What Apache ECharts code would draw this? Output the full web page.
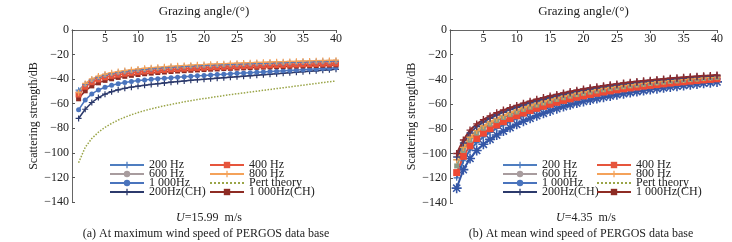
<!DOCTYPE html>
<html lang="en">
<head>
<meta charset="UTF-8">
<title>Scattering strength vs grazing angle</title>
<script src="https://cdn.jsdelivr.net/npm/echarts@6/dist/echarts.min.js"></script>
<style>
  html, body { margin: 0; padding: 0; background: #fff; }
  #chart { width: 732px; height: 242px; }
</style>
</head>
<body>
<div id="chart"></div>
<script>
// grazing angle, degrees
var angles = [1,2,3,4,5,6,7,8,9,10,11,12,13,14,15,16,17,18,19,20,
              21,22,23,24,25,26,27,28,29,30,31,32,33,34,35,36,37,38,39,40];

// (a) U = 15.99 m/s
var a200 = [-49,-44,-40.5,-38.3,-36.7,-35.5,-34.6,-33.8,-33.1,-32.5,-32,-31.5,-31.1,-30.7,-30.3,-30,-29.7,-29.4,-29.1,-28.9,
            -28.6,-28.4,-28.2,-28,-27.8,-27.6,-27.4,-27.2,-27.1,-26.9,-26.7,-26.6,-26.4,-26.3,-26.1,-26,-25.8,-25.7,-25.6,-25.4];
var a400 = [-52.5,-46.2,-42.5,-40.2,-38.5,-37.3,-36.4,-35.6,-34.9,-34.3,-33.8,-33.3,-32.9,-32.5,-32.1,-31.8,-31.5,-31.2,-30.9,-30.7,
            -30.4,-30.2,-30,-29.8,-29.6,-29.4,-29.2,-29,-28.9,-28.7,-28.5,-28.4,-28.2,-28.1,-27.9,-27.8,-27.6,-27.5,-27.4,-27.2];
var a600 = [-50,-44.6,-41,-38.8,-37.1,-35.9,-35,-34.2,-33.5,-32.9,-32.4,-31.9,-31.5,-31.1,-30.7,-30.4,-30.1,-29.8,-29.5,-29.3,
            -29,-28.8,-28.6,-28.4,-28.2,-28,-27.8,-27.6,-27.5,-27.3,-27.1,-27,-26.8,-26.7,-26.5,-26.4,-26.2,-26.1,-26,-25.8];
var a800 = [-51,-43.5,-39.8,-37.5,-35.9,-34.7,-33.8,-33,-32.3,-31.7,-31.2,-30.7,-30.3,-29.9,-29.5,-29.2,-28.9,-28.6,-28.3,-28.1,
            -27.8,-27.6,-27.4,-27.2,-27,-26.8,-26.6,-26.4,-26.3,-26.1,-25.9,-25.8,-25.6,-25.5,-25.3,-25.2,-25,-24.9,-24.8,-24.6];
var a1000 = [-65,-57,-52,-48.8,-46.6,-45,-43.7,-42.7,-41.9,-41.2,-40.6,-40.1,-39.6,-39.2,-38.8,-38.4,-38,-37.7,-37.3,-37,
             -36.6,-36.3,-36,-35.6,-35.3,-35,-34.7,-34.4,-34.1,-33.8,-33.5,-33.2,-32.9,-32.6,-32.3,-32,-31.7,-31.4,-31.1,-30.8];
var aPert = [-108,-95.5,-88.3,-83.2,-79.2,-76,-73.3,-71,-69,-67.2,-65.6,-64.2,-62.9,-61.7,-60.6,-59.5,-58.5,-57.5,-56.6,-55.8,
             -55,-54.2,-53.4,-52.6,-51.9,-51.2,-50.5,-49.8,-49.1,-48.4,-47.7,-47,-46.3,-45.6,-44.9,-44.2,-43.5,-42.8,-42.1,-41.5];
var a200CH = [-72,-64.5,-59,-55,-52.2,-50.2,-48.7,-47.5,-46.5,-45.7,-45,-44.3,-43.7,-43.1,-42.5,-42,-41.5,-41,-40.5,-40.1,
              -39.6,-39.2,-38.8,-38.4,-38,-37.6,-37.2,-36.8,-36.4,-36,-35.6,-35.2,-34.8,-34.4,-34,-33.6,-33.2,-32.8,-32.4,-32];
var a1000CH = [-56,-49.5,-45.5,-43,-41,-39.7,-38.6,-37.7,-36.9,-36.2,-35.6,-35.1,-34.6,-34.2,-33.8,-33.4,-33.1,-32.8,-32.5,-32.2,
               -31.9,-31.7,-31.4,-31.2,-31,-30.8,-30.6,-30.4,-30.2,-30,-29.8,-29.7,-29.5,-29.3,-29.2,-29,-28.9,-28.7,-28.6,-28.4];

// (b) U = 4.35 m/s
var b200 = [-119.6,-105.8,-97.1,-91.1,-86.5,-82.8,-79.6,-76.7,-74.1,-71.7,-69.4,-67.3,-65.4,-63.6,-61.9,-60.2,-58.7,-57.3,-56,-54.8,
            -53.7,-52.6,-51.6,-50.7,-49.8,-48.9,-48.1,-47.4,-46.6,-45.9,-45.3,-44.6,-44,-43.5,-42.9,-42.4,-41.8,-41.3,-40.9,-40.3];
var b400 = [-115.4,-102.2,-93.7,-87.8,-83.5,-79.9,-76.9,-74.2,-71.7,-69.4,-67.2,-65.2,-63.4,-61.7,-60.1,-58.5,-57,-55.7,-54.4,-53.3,
            -52.2,-51.2,-50.2,-49.3,-48.4,-47.6,-46.9,-46.2,-45.4,-44.8,-44.2,-43.6,-43,-42.4,-41.9,-41.4,-40.9,-40.4,-40,-39.5];
var b600 = [-110,-97.4,-89.1,-83.5,-79.5,-76.2,-73.3,-70.8,-68.5,-66.4,-64.3,-62.5,-60.8,-59.1,-57.6,-56.2,-54.8,-53.5,-52.3,-51.2,
            -50.2,-49.3,-48.4,-47.5,-46.7,-45.9,-45.2,-44.5,-43.9,-43.3,-42.7,-42.1,-41.6,-41.1,-40.6,-40.1,-39.7,-39.2,-38.8,-38.4];
var b800 = [-105,-95,-86.8,-81.4,-77.5,-74.3,-71.5,-69.1,-66.9,-64.8,-62.9,-61.1,-59.4,-57.9,-56.4,-55,-53.7,-52.5,-51.3,-50.2,
            -49.3,-48.3,-47.4,-46.6,-45.8,-45.1,-44.4,-43.7,-43.1,-42.5,-42,-41.4,-40.9,-40.4,-40,-39.5,-39.1,-38.6,-38.3,-37.8];
var b1000 = [-128,-113,-104,-97.5,-92.5,-88.5,-85,-81.8,-79,-76.3,-73.8,-71.5,-69.4,-67.4,-65.5,-63.7,-62,-60.5,-59.1,-57.8,
             -56.6,-55.5,-54.4,-53.4,-52.4,-51.5,-50.6,-49.8,-49,-48.2,-47.5,-46.8,-46.1,-45.5,-44.9,-44.3,-43.7,-43.1,-42.6,-42];
var bPert = []; // hidden under the other curves in (b)
var b200CH = [-102.8,-91.4,-83.3,-78.2,-74.5,-71.4,-68.8,-66.5,-64.4,-62.5,-60.7,-59,-57.4,-56,-54.6,-53.3,-52,-50.9,-49.7,-48.7,
              -47.8,-46.9,-46,-45.2,-44.5,-43.8,-43.1,-42.5,-41.9,-41.4,-40.8,-40.3,-39.8,-39.4,-39,-38.5,-38.1,-37.7,-37.4,-37];
var b1000CH = [-100,-89,-81,-76,-72.5,-69.5,-67,-64.8,-62.8,-61,-59.2,-57.6,-56.1,-54.7,-53.4,-52.1,-50.9,-49.8,-48.7,-47.7,
               -46.8,-45.9,-45.1,-44.3,-43.6,-42.9,-42.3,-41.7,-41.1,-40.6,-40.1,-39.6,-39.1,-38.7,-38.3,-37.9,-37.5,-37.1,-36.8,-36.4];

var yTicks = [0,-20,-40,-60,-80,-100,-120,-140];
var xTicks = [5,10,15,20,25,30,35,40];

var SERIF = 'Liberation Serif';
var PLUS = 'path://M4,0H6V4H10V6H6V10H4V6H0V4H4Z';
var STAR = 'path://M4.2,0H5.8V3.1L8,0.9L9.1,2L6.9,4.2H10V5.8H6.9L9.1,8L8,9.1L5.8,6.9V10H4.2V6.9L2,9.1L0.9,8L3.1,5.8H0V4.2H3.1L0.9,2L2,0.9L4.2,3.1Z';

function pairs(ys) {
    var out = [];
    for (var i = 0; i < ys.length; i++) out.push([angles[i], ys[i]]);
    return out;
}

function line(name, ys, panel, color, symbol, size, width, dotted) {
    return {
        name: name, type: 'line',
        xAxisIndex: panel * 2, yAxisIndex: panel * 2,
        data: pairs(ys),
        symbol: symbol || 'none', symbolSize: size,
        showSymbol: !!symbol,
        lineStyle: { color: color, width: width, type: dotted ? 'dotted' : 'solid' },
        itemStyle: { color: color },
        animation: false
    };
}

function axesFor(grid) {
    var xs = [{
        gridIndex: grid, type: 'value', position: 'top', min: 0, max: 40, interval: 5,
        name: 'Grazing angle/(°)', nameLocation: 'middle', nameGap: 12,
        nameTextStyle: { fontFamily: SERIF, fontSize: 13, color: '#222' },
        axisLine: { show: false },
        axisTick: { show: true, inside: true, length: 3, lineStyle: { color: '#555' } },
        axisLabel: {
            inside: true, margin: 3, fontFamily: SERIF, fontSize: 12, color: '#222',
            formatter: function (v) { return xTicks.indexOf(v) >= 0 ? String(v) : ''; }
        },
        splitLine: { show: false }
    }, {
        gridIndex: grid, type: 'value', position: 'bottom', min: 0, max: 40,
        axisLine: { show: true, lineStyle: { color: '#666', width: 1 } },
        axisTick: { show: false }, axisLabel: { show: false }, splitLine: { show: false }
    }];
    var ys = [{
        gridIndex: grid, type: 'value', position: 'left', min: -140, max: 0, interval: 20,
        name: 'Scattering strength/dB', nameLocation: 'middle', nameGap: 32,
        nameTextStyle: { fontFamily: SERIF, fontSize: 12, color: '#222' },
        axisLine: { show: true, lineStyle: { color: '#666', width: 1 } },
        axisTick: { show: true, inside: true, length: 3, lineStyle: { color: '#555' } },
        axisLabel: {
            margin: 3, fontFamily: SERIF, fontSize: 12, color: '#222',
            formatter: function (v) { return yTicks.indexOf(v) >= 0 ? String(v).replace('-', '\u2212') : ''; }
        },
        splitLine: { show: false }
    }, {
        gridIndex: grid, type: 'value', position: 'right', min: -140, max: 0,
        axisLine: { show: true, lineStyle: { color: '#666', width: 1 } },
        axisTick: { show: false }, axisLabel: { show: false }, splitLine: { show: false }
    }];
    return { x: xs, y: ys };
}

function legendCol(left, names) {
    return {
        left: left, top: 159, orient: 'vertical', itemGap: -3, padding: 0,
        itemWidth: 34, itemHeight: 8,
        textStyle: { fontFamily: SERIF, fontSize: 12, color: '#222' },
        // pert theory is a plain dotted line, no marker in its key
        data: names.map(function (n) {
            return n === 'Pert theory' ? { name: n, itemStyle: { opacity: 0 } } : n;
        }),
        selectedMode: false
    };
}

var chart = echarts.init(document.getElementById('chart'), null, { renderer: 'canvas' });

var ax0 = axesFor(0), ax1 = axesFor(1);
var col1 = ['200 Hz', '600 Hz', '1 000Hz', '200Hz(CH)'];
var col2 = ['400 Hz', '800 Hz', 'Pert theory', '1 000Hz(CH)'];

var option = {
    backgroundColor: '#fff',
    animation: false,
    grid: [
        { left: 72, right: 396, top: 20, bottom: 40 },
        { left: 450, right: 15, top: 20, bottom: 39 }
    ],
    xAxis: ax0.x.concat(ax1.x),
    yAxis: ax0.y.concat(ax1.y),
    legend: [
        legendCol(109, col1), legendCol(209, col2),
        legendCol(502, col1), legendCol(596, col2)
    ],
    title: [
        { text: '{i|U}=15.99  m/s', left: 204, top: 207, textAlign: 'center',
          textStyle: { fontFamily: SERIF, fontSize: 12, fontWeight: 'normal', color: '#222',
                       rich: { i: { fontFamily: SERIF, fontStyle: 'italic', fontSize: 12 } } } },
        { text: '(a) At maximum wind speed of PERGOS data base', left: 201, top: 223, textAlign: 'center',
          textStyle: { fontFamily: SERIF, fontSize: 12, fontWeight: 'normal', color: '#222' } },
        { text: '{i|U}=4.35  m/s', left: 581, top: 207, textAlign: 'center',
          textStyle: { fontFamily: SERIF, fontSize: 12, fontWeight: 'normal', color: '#222',
                       rich: { i: { fontFamily: SERIF, fontStyle: 'italic', fontSize: 12 } } } },
        { text: '(b) At mean wind speed of PERGOS data base', left: 576, top: 223, textAlign: 'center',
          textStyle: { fontFamily: SERIF, fontSize: 12, fontWeight: 'normal', color: '#222' } }
    ],
    series: [
        line('Pert theory', aPert, 0, '#9aa548', null, 0, 1.5, true),
        line('200Hz(CH)', a200CH, 0, '#2c3a6c', PLUS, 6, 1.5),
        line('1 000Hz', a1000, 0, '#4a74bd', 'circle', 5, 1.5),
        line('1 000Hz(CH)', a1000CH, 0, '#8e2c24', 'rect', 5, 1.5),
        line('400 Hz', a400, 0, '#e6553c', 'rect', 6, 1.5),
        line('600 Hz', a600, 0, '#a89c9e', 'circle', 4, 1.5),
        line('200 Hz', a200, 0, '#4f7ec0', PLUS, 6, 1.5),
        line('800 Hz', a800, 0, '#f4a25a', PLUS, 6, 1.5),

        line('Pert theory', bPert, 1, '#9bbb59', null, 0, 1.5, true),
        line('1 000Hz', b1000, 1, '#3456a6', STAR, 10, 2),
        line('200 Hz', b200, 1, '#3b6cb5', PLUS, 6, 2),
        line('400 Hz', b400, 1, '#ee4a34', 'rect', 7, 2),
        line('600 Hz', b600, 1, '#8d9a84', 'rect', 5, 2),
        line('800 Hz', b800, 1, '#f0a04c', PLUS, 7, 2),
        line('200Hz(CH)', b200CH, 1, '#3d4378', PLUS, 7, 2),
        line('1 000Hz(CH)', b1000CH, 1, '#8b2b2e', PLUS, 7, 2)
    ]
};

chart.setOption(option);
</script>
</body>
</html>
